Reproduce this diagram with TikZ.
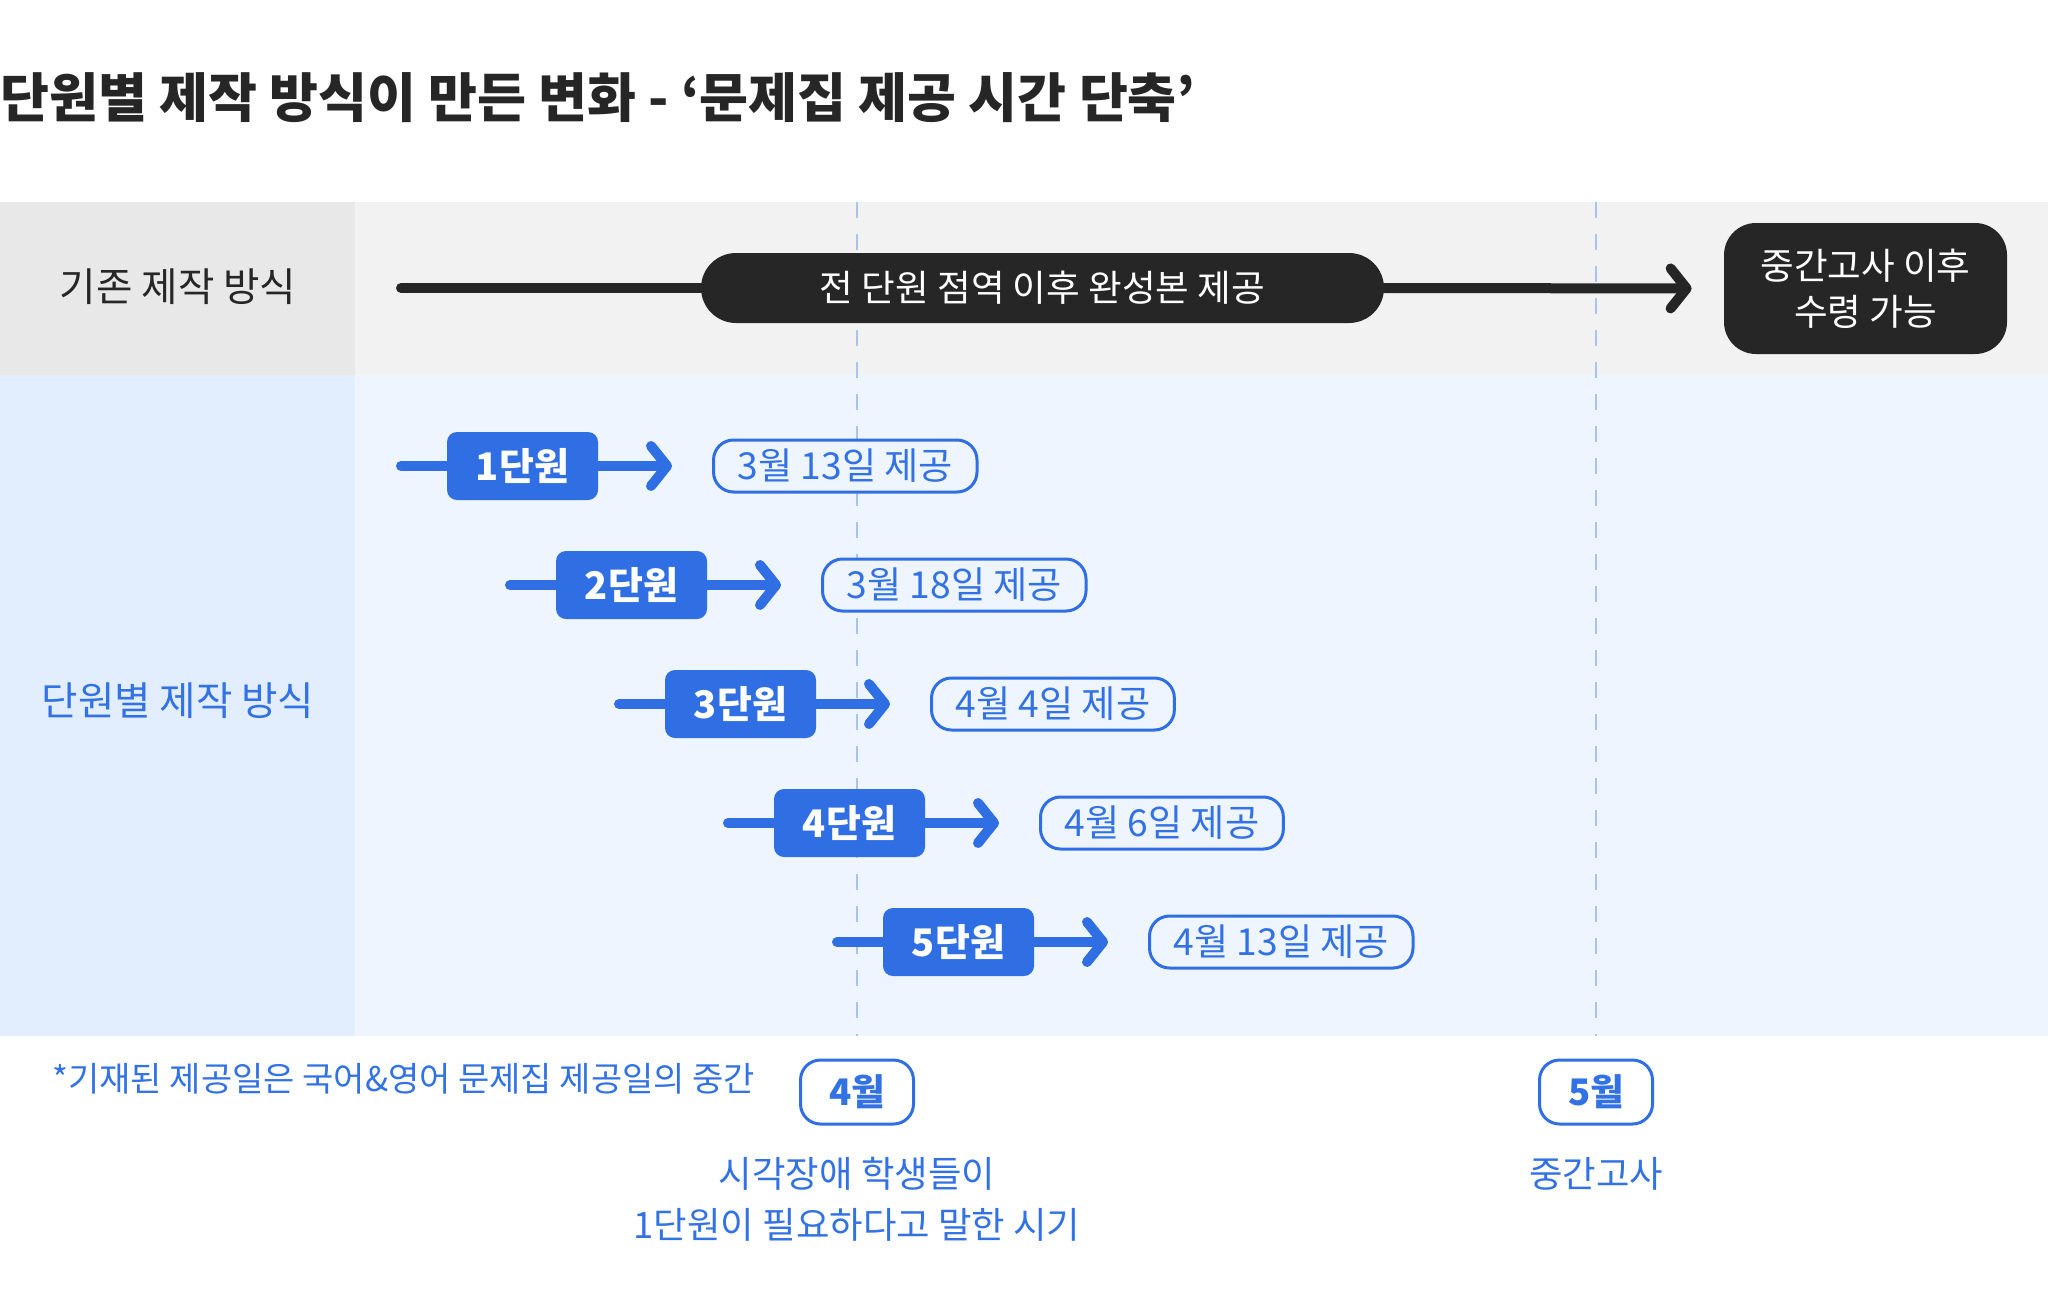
\documentclass[tikz,border=0pt]{standalone}
\usepackage{fontspec}
\setmainfont{Noto Sans CJK KR}
\usetikzlibrary{arrows.meta}
\definecolor{ublue}{HTML}{2F6FE3}
\definecolor{tblue}{HTML}{3372E4}
\definecolor{dark}{HTML}{262626}
\definecolor{grayL}{HTML}{E8E8E8}
\definecolor{grayR}{HTML}{F2F2F2}
\definecolor{blueL}{HTML}{E2EEFD}
\definecolor{blueR}{HTML}{EEF5FE}
\definecolor{dashc}{HTML}{A5C4F2}
\tikzset{
  lab/.style={inner sep=0pt, font=\fontsize{19.8}{24}\selectfont, text=dark},
  pill/.style={fill=dark, text=white, rounded corners=17.5pt, minimum width=341.5pt, minimum height=35pt, inner sep=0pt, font=\fontsize{18.3}{22}\selectfont},
  endbox/.style={fill=dark, text=white, rounded corners=16pt, minimum width=141.5pt, minimum height=65.5pt, inner sep=0pt, align=center, font=\fontsize{18.3}{23}\selectfont},
  unitbox/.style={fill=ublue, text=white, rounded corners=5pt, minimum width=75.5pt, minimum height=34pt, inner sep=0pt, font=\bfseries\fontsize{19}{21}\selectfont},
  datebox/.style={draw=ublue, line width=1.5pt, fill=blueR, text=tblue, rounded corners=10pt, minimum height=26pt, inner xsep=12pt, inner ysep=0pt, anchor=west, font=\fontsize{18.6}{21}\selectfont},
  monbox/.style={draw=ublue, line width=1.5pt, fill=white, text=tblue, rounded corners=10pt, minimum width=56.5pt, minimum height=32pt, inner sep=0pt, font=\bfseries\fontsize{18.3}{21}\selectfont},
  blkline/.style={draw=dark, line width=5pt, line cap=round},
  blkarr/.style={blkline, -{Straight Barb[length=8pt, width=20pt, round]}},
  bluline/.style={draw=ublue, line width=5pt, line cap=round},
  bluarr/.style={bluline, -{Straight Barb[length=8pt, width=20pt, round]}},
  vdash/.style={draw=dashc, line width=1pt, dash pattern=on 8pt off 8pt},
  btxt/.style={inner sep=0pt, text=tblue, align=center, font=\fontsize{18.2}{25.5}\selectfont},
}
\begin{document}
\begin{tikzpicture}[x=0.5pt, y=-0.5pt]
\useasboundingbox (0,0) rectangle (2048,1306);
\fill[white] (0,0) rectangle (2048,1306);
% bands
\fill[grayL] (0,202) rectangle (355,375);
\fill[grayR] (355,202) rectangle (2048,375);
\fill[blueL] (0,375) rectangle (355,1036);
\fill[blueR] (355,375) rectangle (2048,1036);
% month guides
\draw[vdash] (857,202) -- (857,1036);
\draw[vdash] (1596,202) -- (1596,1036);
% title
\node[anchor=west, inner sep=0pt, text=dark, font=\bfseries\fontsize{26.6}{30}\selectfont] (title) at (0,98) {단원별 제작 방식이 만든 변화 - ‘문제집 제공 시간 단축’};
% row labels
\node[lab] (old) at (178,287) {기존 제작 방식};
\node[lab, text=tblue] (new) at (178,701) {단원별 제작 방식};
% old process
\coordinate (ostart) at (401,288);
\node[pill] (pill) at (1042.5,288) {전 단원 점역 이후 완성본 제공};
\node[endbox] (end) at (1865.5,288.5) {중간고사 이후\\수령 가능};
\draw[blkline] (ostart) -- (pill.west);
\draw[blkarr, shorten >=16pt] (pill.east) -- (end.west);
% unit rows
\foreach \nn/\dd [count=\ii from 0] in {1/3월 13일 제공,2/3월 18일 제공,3/4월 4일 제공,4/4월 6일 제공,5/4월 13일 제공} {
  \coordinate (s\nn) at ({401+109*\ii},{466+119*\ii});
  \node[unitbox] (u\nn) at ({522.5+109*\ii},{466+119*\ii}) {{\nn}단원};
  \node[datebox] (d\nn) at ({712+109*\ii},{466+119*\ii}) {\dd};
  \draw[bluline] (s\nn) -- (u\nn.west);
  \draw[bluarr, shorten >=20pt] (u\nn.east) -- (d\nn.west);
}
% bottom
\node[anchor=west, inner sep=0pt, text=tblue, font=\fontsize{17}{20}\selectfont] (note) at (52,1079) {*기재된 제공일은 국어\&영어 문제집 제공일의 중간};
\node[monbox] (apr) at (857,1092) {4월};
\node[monbox] (may) at (1596,1092) {5월};
\node[btxt] (aprtxt) at (857,1199.5) {시각장애 학생들이\\1단원이 필요하다고 말한 시기};
\node[btxt] (maytxt) at (1596,1174) {중간고사};
\end{tikzpicture}
\end{document}
